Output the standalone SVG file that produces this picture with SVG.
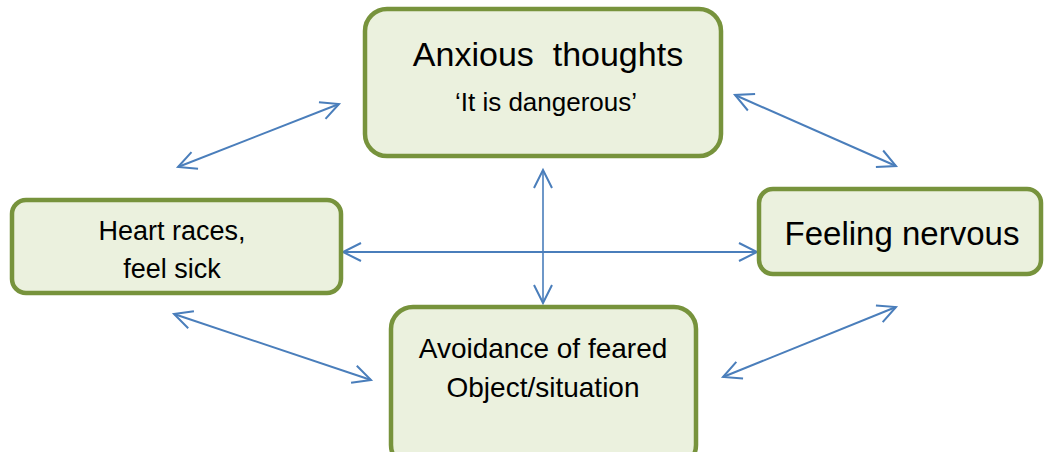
<svg xmlns="http://www.w3.org/2000/svg" width="1045" height="452" viewBox="0 0 1045 452">
<style>
.box{fill:#ebf1de;stroke:#77933c;stroke-width:4.5}
.t{font-family:"Liberation Sans",Arial,sans-serif;fill:#000;text-anchor:middle}
.c{stroke:#4a7ebb;stroke-width:2;fill:none;marker-start:url(#ah);marker-end:url(#ah)}
</style>
<defs>
<marker id="ah" markerUnits="userSpaceOnUse" viewBox="-22 -12 26 24" refX="0" refY="0" markerWidth="26" markerHeight="24" orient="auto-start-reverse">
<path d="M-18,-9 L0,0 L-18,9" fill="none" stroke="#4a7ebb" stroke-width="2"/>
</marker>
</defs>
<rect width="1045" height="452" fill="#fff"/>
<g id="connectors">
<line class="c" x1="178" y1="167" x2="339" y2="104"/>
<line class="c" x1="735" y1="95" x2="896" y2="166"/>
<line class="c" x1="543" y1="170" x2="543" y2="303" style="stroke-width:1.6"/>
<line class="c" x1="343" y1="252" x2="757" y2="252"/>
<line class="c" x1="174" y1="314" x2="371" y2="380"/>
<line class="c" x1="896" y1="307" x2="723" y2="377"/>
</g>
<g id="anxious">
<rect class="box" x="365" y="9" width="356" height="147" rx="22"/>
<text class="t" x="548" y="66" font-size="34" xml:space="preserve">Anxious  thoughts</text>
<text class="t" x="546" y="111" font-size="26">‘It is dangerous’</text>
</g>
<g id="heart">
<rect class="box" x="12" y="200" width="329" height="93" rx="14"/>
<text class="t" x="172" y="240" font-size="27">Heart races,</text>
<text class="t" x="172" y="278" font-size="27">feel sick</text>
</g>
<g id="nervous">
<rect class="box" x="759" y="189" width="282" height="85" rx="14"/>
<text class="t" x="902" y="245" font-size="33">Feeling nervous</text>
</g>
<g id="avoidance">
<rect class="box" x="391" y="307" width="305" height="160" rx="22"/>
<text class="t" x="543" y="358" font-size="28">Avoidance of feared</text>
<text class="t" x="543" y="397" font-size="28">Object/situation</text>
</g>
</svg>
